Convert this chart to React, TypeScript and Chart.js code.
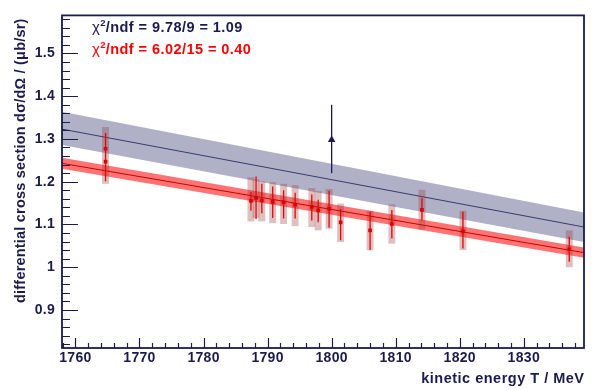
import React, { useEffect, useRef } from "react";
import { Chart, registerables } from "chart.js";

Chart.register(...registerables);

// Measured points (red): beam kinetic energy in MeV and cross section in µb/sr
const energy = [1764.7, 1764.7, 1787.4, 1788.2, 1789.1, 1790.8, 1792.5, 1794.3, 1796.9, 1797.9, 1799.6, 1801.4, 1806.0, 1809.4, 1814.1, 1820.5, 1837.1];
const xsec = [1.277, 1.247, 1.155, 1.162, 1.156, 1.153, 1.152, 1.146, 1.141, 1.133, 1.137, 1.105, 1.086, 1.101, 1.134, 1.084, 1.042];
const statLow = [1.240, 1.201, 1.132, 1.113, 1.126, 1.115, 1.114, 1.114, 1.109, 1.105, 1.092, 1.063, 1.040, 1.067, 1.109, 1.044, 1.013];
const statHigh = [1.314, 1.285, 1.176, 1.212, 1.195, 1.189, 1.180, 1.174, 1.170, 1.158, 1.179, 1.136, 1.130, 1.134, 1.161, 1.130, 1.071];
const sysLow: (number | null)[] = [1.195, null, 1.107, 1.115, 1.107, 1.103, 1.101, 1.096, 1.094, 1.086, 1.090, 1.059, 1.040, 1.055, 1.088, 1.040, 1.000];
const sysHigh: (number | null)[] = [1.328, null, 1.210, 1.205, 1.201, 1.199, 1.195, 1.192, 1.185, 1.178, 1.183, 1.149, 1.132, 1.147, 1.181, 1.132, 1.086];
const sysHalfWidth = 0.54; // MeV

// Reference point (dark blue)
const energyRef = [1800.0];
const xsecRef = [1.298];
const statLowRef = [1.220];
const statHighRef = [1.380];

// Linear fits with their error bands, evaluated at the axis limits
const fitEnergy = [1757.9, 1839.4];
const redFit = [1.243, 1.034];
const redFitUpper = [1.256, 1.046];
const redFitLower = [1.230, 1.022];
const blueFit = [1.323, 1.094];
const blueFitUpper = [1.3635, 1.128];
const blueFitLower = [1.286, 1.059];

// Axes
const xMin = 1757.9;
const xMax = 1839.4;
const yMin = 0.811;
const yMax = 1.589;
const xMajorTicks = [1760, 1770, 1780, 1790, 1800, 1810, 1820, 1830];
const yMajorTicks = [0.9, 1.0, 1.1, 1.2, 1.3, 1.4, 1.5];
const xMinorStep = 2;
const yMinorStep = 0.02;

const xTitle = "kinetic energy T / MeV";
const yTitle = "differential cross section dσ/dΩ / (μb/sr)";
const chi2Blue = ["9.78", "9", "1.09"];
const chi2Red = ["6.02", "15", "0.40"];

const NAVY = "#1b1b4d";
const RED = "#ee0000";
const FONT_FAMILY = '"Liberation Sans", Arial, Helvetica, sans-serif';

const toXY = (xs: number[], ys: number[]) => xs.map((x, i) => ({ x, y: ys[i] }));

const decorPlugin = {
  id: "decor",
  beforeDraw(chart: any) {
    // slightly looser glyph spacing for all text, tick labels included
    chart.ctx.letterSpacing = "0.3px";
  },
  beforeDatasetDraw(chart: any, args: any) {
    const ds = chart.data.datasets[args.index];
    const { ctx, scales } = chart;
    const xs = scales.x;
    const ys = scales.y;
    if (ds.label === "data") {
      ctx.save();
      // systematic uncertainty boxes
      ctx.fillStyle = "rgba(150,45,45,0.3)";
      energy.forEach((e, i) => {
        const lo = sysLow[i];
        const hi = sysHigh[i];
        if (lo == null || hi == null) return;
        const x0 = xs.getPixelForValue(e - sysHalfWidth);
        const x1 = xs.getPixelForValue(e + sysHalfWidth);
        const y0 = ys.getPixelForValue(hi);
        const y1 = ys.getPixelForValue(lo);
        ctx.fillRect(x0, y0, x1 - x0, y1 - y0);
      });
      // statistical error bars
      ctx.strokeStyle = RED;
      ctx.lineWidth = 1.3;
      ctx.beginPath();
      energy.forEach((e, i) => {
        const px = xs.getPixelForValue(e);
        ctx.moveTo(px, ys.getPixelForValue(statLow[i]));
        ctx.lineTo(px, ys.getPixelForValue(statHigh[i]));
      });
      ctx.stroke();
      ctx.restore();
    }
    if (ds.label === "reference") {
      ctx.save();
      ctx.strokeStyle = NAVY;
      ctx.lineWidth = 1.3;
      ctx.beginPath();
      energyRef.forEach((e, i) => {
        const px = xs.getPixelForValue(e);
        ctx.moveTo(px, ys.getPixelForValue(statLowRef[i]));
        ctx.lineTo(px, ys.getPixelForValue(statHighRef[i]));
      });
      ctx.stroke();
      ctx.restore();
    }
  },
  afterDraw(chart: any) {
    const { ctx, chartArea: a, scales } = chart;
    const xs = scales.x;
    const ys = scales.y;
    ctx.save();
    ctx.strokeStyle = NAVY;

    // tick marks, pointing into the frame
    ctx.lineWidth = 1.2;
    ctx.beginPath();
    for (let i = Math.ceil(xMin / xMinorStep); i <= Math.floor(xMax / xMinorStep); i++) {
      const v = i * xMinorStep;
      const major = xMajorTicks.includes(v);
      const px = Math.round(xs.getPixelForValue(v)) + 0.5;
      ctx.moveTo(px, a.bottom);
      ctx.lineTo(px, a.bottom - (major ? 10 : 5));
    }
    for (let i = Math.ceil(yMin / yMinorStep); i <= Math.floor(yMax / yMinorStep); i++) {
      const v = i * yMinorStep;
      const major = i % 5 === 0;
      const py = Math.round(ys.getPixelForValue(v)) + 0.5;
      ctx.moveTo(a.left, py);
      ctx.lineTo(a.left + (major ? 16 : 8), py);
    }
    ctx.stroke();

    // frame
    ctx.lineWidth = 1.8;
    ctx.strokeRect(a.left, a.top, a.right - a.left, a.bottom - a.top);

    // axis titles
    ctx.fillStyle = NAVY;
    ctx.font = `bold 14.5px ${FONT_FAMILY}`;
    ctx.textBaseline = "alphabetic";
    ctx.textAlign = "right";
    ctx.letterSpacing = "0.5px";
    ctx.fillText(xTitle, a.right + 0.5, 383);
    ctx.save();
    ctx.letterSpacing = "0.2px";
    ctx.translate(25, a.top + 3);
    ctx.rotate(-Math.PI / 2);
    ctx.textAlign = "right";
    ctx.fillText(yTitle, 0, 0);
    ctx.restore();

    // fit quality labels
    const drawChi2 = (vals: string[], color: string, baseline: number) => {
      let x = 92;
      ctx.fillStyle = color;
      ctx.textAlign = "left";
      ctx.letterSpacing = "0px";
      ctx.font = `15px ${FONT_FAMILY}`;
      ctx.fillText("χ", x, baseline);
      x += ctx.measureText("χ").width + 0.5;
      ctx.font = `bold 9.5px ${FONT_FAMILY}`;
      ctx.fillText("2", x, baseline - 6);
      x += ctx.measureText("2").width;
      ctx.font = `bold 14.5px ${FONT_FAMILY}`;
      ctx.letterSpacing = "0.45px";
      ctx.fillText(`/ndf = ${vals[0]}/${vals[1]} = ${vals[2]}`, x, baseline);
    };
    drawChi2(chi2Blue, NAVY, 32);
    drawChi2(chi2Red, "#ff0000", 54);

    ctx.restore();
    ctx.letterSpacing = "0px";
  },
};

export default function App() {
  const canvasRef = useRef<HTMLCanvasElement | null>(null);

  useEffect(() => {
    const canvas = canvasRef.current;
    if (!canvas) return;
    const tickFont = { family: FONT_FAMILY, size: 14, weight: "bold" as const };
    const hidden = "rgba(0,0,0,0)";

    const chart = new Chart(canvas, {
      type: "line",
      data: {
        datasets: [
          {
            label: "data",
            data: toXY(energy, xsec),
            showLine: false,
            pointStyle: "rect",
            pointRadius: 2.6,
            pointBackgroundColor: "#dd0000",
            pointBorderWidth: 0,
            pointBorderColor: "#dd0000",
            order: 0,
          },
          {
            label: "reference",
            data: toXY(energyRef, xsecRef),
            showLine: false,
            pointStyle: "triangle",
            pointRadius: 4.4,
            pointBackgroundColor: NAVY,
            pointBorderColor: NAVY,
            pointBorderWidth: 0,
            order: 1,
          },
          {
            label: "red fit",
            data: toXY(fitEnergy, redFit),
            borderColor: "#c40000",
            borderWidth: 1,
            pointRadius: 0,
            fill: false,
            order: 2,
          },
          {
            label: "red band upper",
            data: toXY(fitEnergy, redFitUpper),
            borderColor: hidden,
            borderWidth: 0,
            pointRadius: 0,
            fill: false,
            order: 3,
          },
          {
            label: "red band lower",
            data: toXY(fitEnergy, redFitLower),
            borderColor: hidden,
            borderWidth: 0,
            pointRadius: 0,
            backgroundColor: "rgba(255,0,0,0.55)",
            fill: "-1",
            order: 3,
          },
          {
            label: "blue fit",
            data: toXY(fitEnergy, blueFit),
            borderColor: "#3a3a6e",
            borderWidth: 1,
            pointRadius: 0,
            fill: false,
            order: 5,
          },
          {
            label: "blue band upper",
            data: toXY(fitEnergy, blueFitUpper),
            borderColor: hidden,
            borderWidth: 0,
            pointRadius: 0,
            fill: false,
            order: 6,
          },
          {
            label: "blue band lower",
            data: toXY(fitEnergy, blueFitLower),
            borderColor: hidden,
            borderWidth: 0,
            pointRadius: 0,
            backgroundColor: "rgba(40,40,100,0.37)",
            fill: "-1",
            order: 6,
          },
        ],
      },
      options: {
        responsive: false,
        animation: false,
        devicePixelRatio: 1,
        layout: { padding: { top: 9, right: 9, left: 0, bottom: 0 } },
        plugins: {
          legend: { display: false },
          tooltip: { enabled: false },
        },
        scales: {
          x: {
            type: "linear",
            min: xMin,
            max: xMax,
            afterBuildTicks: (scale: any) => {
              scale.ticks = xMajorTicks.map((v) => ({ value: v }));
            },
            afterFit: (scale: any) => {
              scale.height = 42;
            },
            ticks: {
              autoSkip: false,
              maxRotation: 0,
              padding: 2,
              color: NAVY,
              font: tickFont,
              callback: (v: any) => String(v),
            },
            grid: { display: false, drawTicks: false },
            border: { display: false },
          },
          y: {
            type: "linear",
            min: yMin,
            max: yMax,
            afterBuildTicks: (scale: any) => {
              scale.ticks = yMajorTicks.map((v) => ({ value: v }));
            },
            afterFit: (scale: any) => {
              scale.width = 62;
            },
            ticks: {
              autoSkip: false,
              padding: 7,
              color: NAVY,
              font: tickFont,
              callback: (v: any) => (Math.abs(v - 1) < 1e-9 ? "1" : Number(v).toFixed(1)),
            },
            grid: { display: false, drawTicks: false },
            border: { display: false },
          },
        },
      },
      plugins: [decorPlugin],
    });

    return () => chart.destroy();
  }, []);

  return (
    <div style={{ position: "absolute", left: 0, top: 0, width: 593, height: 390, background: "#ffffff" }}>
      <canvas ref={canvasRef} width={593} height={390} style={{ display: "block", width: 593, height: 390 }} />
    </div>
  );
}
